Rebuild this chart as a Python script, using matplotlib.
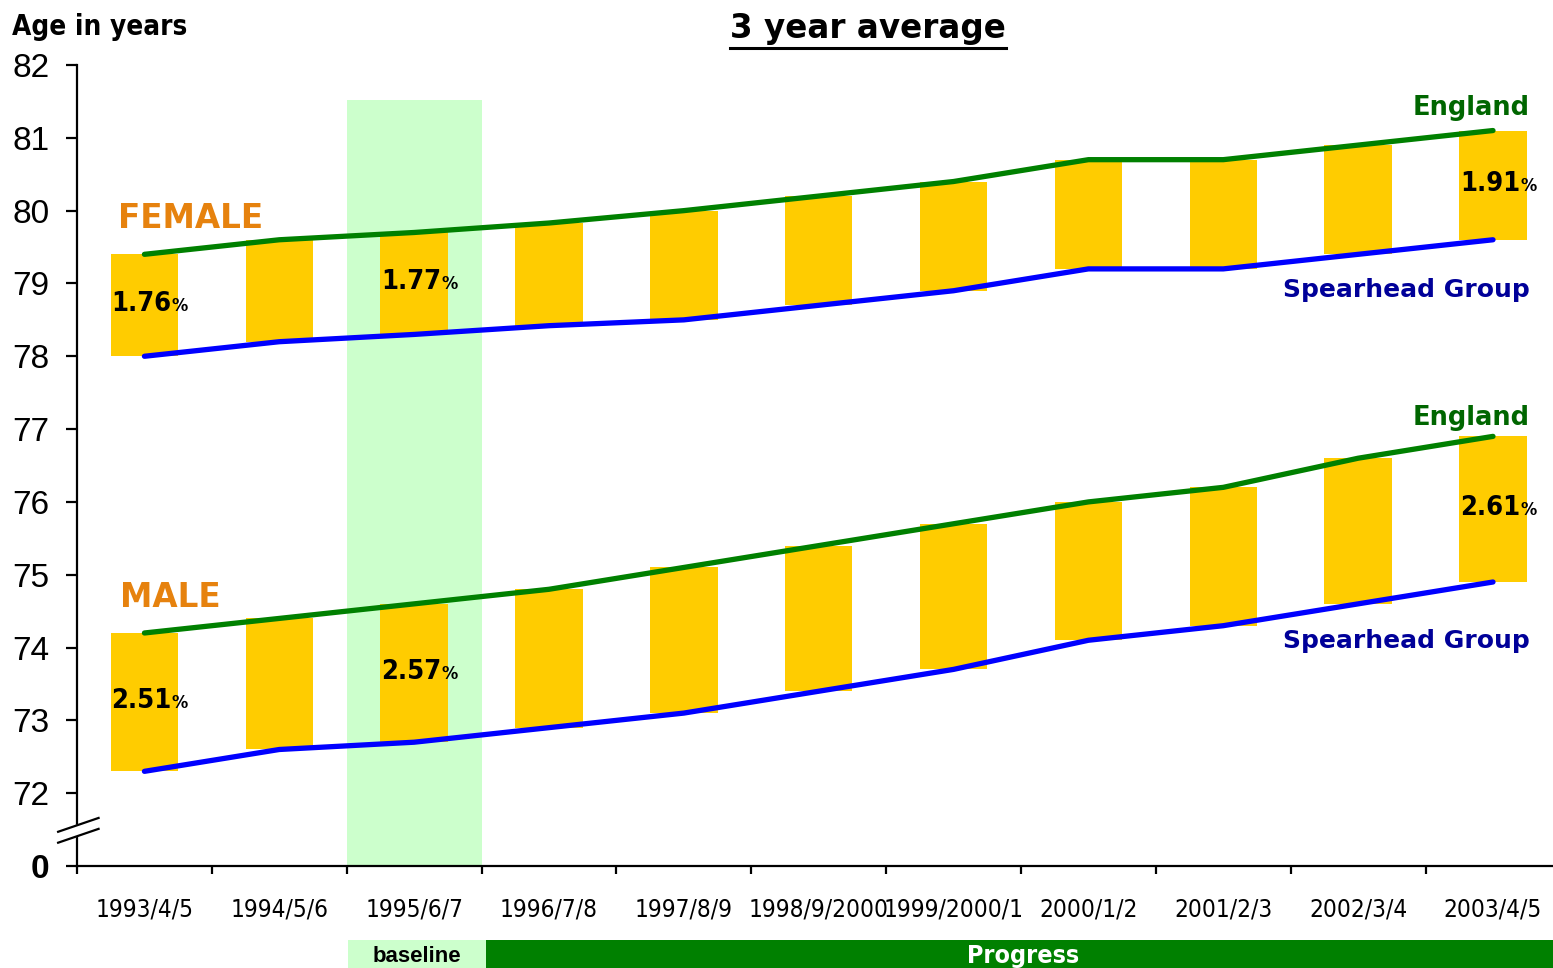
import matplotlib
matplotlib.use("Agg")
import matplotlib.pyplot as plt
from matplotlib import font_manager
from matplotlib.lines import Line2D
from matplotlib.patches import Rectangle, Polygon
from matplotlib.offsetbox import TextArea, HPacker, AnnotationBbox
from matplotlib.transforms import blended_transform_factory

periods = ["1993/4/5", "1994/5/6", "1995/6/7", "1996/7/8", "1997/8/9", "1998/9/2000",
           "1999/2000/1", "2000/1/2", "2001/2/3", "2002/3/4", "2003/4/5"]

female_england = [79.4, 79.6, 79.7, 79.83, 80.0, 80.2, 80.4, 80.7, 80.7, 80.9, 81.1]
female_spearhead = [78.0, 78.2, 78.3, 78.42, 78.5, 78.7, 78.9, 79.2, 79.2, 79.4, 79.6]
male_england = [74.2, 74.4, 74.6, 74.8, 75.1, 75.4, 75.7, 76.0, 76.2, 76.6, 76.9]
male_spearhead = [72.3, 72.6, 72.7, 72.9, 73.1, 73.4, 73.7, 74.1, 74.3, 74.6, 74.9]

# gap between England and Spearhead Group, as % of England
female_gap_idx = [0, 2, 10]
female_gap_pct = ["1.76", "1.77", "1.91"]
male_gap_idx = [0, 2, 10]
male_gap_pct = ["2.51", "2.57", "2.61"]

Y_BREAK = 71  # the "0" tick sits one unit below 72, past the axis break

# look for a narrow face; otherwise shrink plain Arial-like text to fit
narrow = None
for f in font_manager.fontManager.ttflist:
    if f.stretch in ("condensed", "semi-condensed", "extra-condensed") and f.weight in (400, "normal", "regular"):
        narrow = (f.name, f.stretch)
        break
if narrow:
    NARROW, STRETCH, NSCALE = narrow[0], narrow[1], 1.0
else:
    NARROW, STRETCH, NSCALE = "Liberation Sans", "normal", 0.9
ARIAL = "Liberation Sans"
BOLD = "DejaVu Sans"

GOLD = "#FFCC00"
LINE_GREEN = "#008000"
LINE_BLUE = "#0000FF"
TXT_GREEN = "#006600"
TXT_BLUE = "#000099"
ORANGE = "#E6820E"
PALE = "#CCFFCC"

fig = plt.figure(figsize=(15.53, 9.68), dpi=100)
W, H = 1553, 968
ax = fig.add_axes([77 / W, 102 / H, (W - 77) / W, 801 / H])
x = list(range(len(periods)))

# baseline period band
ax.axvspan(1.5, 2.5, ymin=0, ymax=(81.52 - Y_BREAK) / (82 - Y_BREAK), color=PALE, lw=0, zorder=0)

for top, bot in ((female_england, female_spearhead), (male_england, male_spearhead)):
    heights = [t - b for t, b in zip(top, bot)]
    ax.bar(x, heights, bottom=bot, width=0.5, color=GOLD, zorder=1)
    ax.plot(x, top, color=LINE_GREEN, lw=3.8, solid_capstyle="round", zorder=2)
    ax.plot(x, bot, color=LINE_BLUE, lw=3.8, solid_capstyle="round", zorder=2)


def pct_label(i, top, bot, num):
    nprops = dict(family=NARROW, stretch=STRETCH, weight="bold", color="black")
    box = HPacker(children=[
        TextArea(num, textprops=dict(nprops, size=19.5 * NSCALE)),
        TextArea("%", textprops=dict(nprops, size=13 * NSCALE)),
    ], align="baseline", pad=0, sep=0)
    ab = AnnotationBbox(box, (i + 0.04, (top[i] + bot[i]) / 2), frameon=False, zorder=3,
                        box_alignment=(0.5, 0.45))
    ax.add_artist(ab)


for i, p in zip(female_gap_idx, female_gap_pct):
    pct_label(i, female_england, female_spearhead, p)
for i, p in zip(male_gap_idx, male_gap_pct):
    pct_label(i, male_england, male_spearhead, p)

ax.text(-0.193, 79.76, "FEMALE", family=BOLD, weight="bold", size=23.5, color=ORANGE, va="baseline")
ax.text(-0.18, 74.56, "MALE", family=BOLD, weight="bold", size=23.5, color=ORANGE, va="baseline")
ax.text(10.274, 81.31, "England", family=BOLD, weight="bold", size=18.5, color=TXT_GREEN,
        ha="right", va="baseline")
ax.text(10.274, 77.06, "England", family=BOLD, weight="bold", size=18.5, color=TXT_GREEN,
        ha="right", va="baseline")
ax.text(10.274, 78.82, "Spearhead Group", family=BOLD, weight="bold", size=18, color=TXT_BLUE,
        ha="right", va="baseline")
ax.text(10.274, 73.99, "Spearhead Group", family=BOLD, weight="bold", size=18, color=TXT_BLUE,
        ha="right", va="baseline")

# axes
ax.set_xlim(-0.5, 10.445)
ax.set_ylim(Y_BREAK, 82)
for s in ("top", "right"):
    ax.spines[s].set_visible(False)
for s in ("left", "bottom"):
    ax.spines[s].set_linewidth(1.6)

yt = [Y_BREAK] + list(range(72, 83))
ax.set_yticks(yt)
ax.set_yticklabels(["0"] + [str(v) for v in range(72, 83)], family=ARIAL, size=24)
ax.get_yticklabels()[0].set_fontweight("bold")
ax.tick_params(axis="y", direction="out", length=8, width=1.6, pad=12)

ax.set_xticks(x)
ax.set_xticklabels(periods, family=NARROW, stretch=STRETCH, size=17.5 * NSCALE)
ax.set_xticks([i - 0.5 for i in x], minor=True)
ax.tick_params(axis="x", which="major", length=0, pad=23)
ax.tick_params(axis="x", which="minor", direction="out", length=6, width=1.6)

# axis break marks
ax.add_patch(Polygon([(-0.64, 71.47), (-0.34, 71.66), (-0.34, 71.51), (-0.64, 71.32)],
                     closed=True, color="white", clip_on=False, zorder=5))
for y0, y1 in ((71.47, 71.66), (71.32, 71.51)):
    ax.add_line(Line2D([-0.64, -0.34], [y0, y1], color="black", lw=1.6, clip_on=False, zorder=6))

# baseline / progress strip under the axis
strip = blended_transform_factory(ax.transData, fig.transFigure)
ax.add_patch(Rectangle((1.512, 0), 2.535 - 1.512, 28 / H, transform=strip, color=PALE,
                       clip_on=False, lw=0))
ax.add_patch(Rectangle((2.535, 0), 10.445 - 2.535, 28 / H, transform=strip, color=LINE_GREEN,
                       clip_on=False, lw=0))
ax.text(2.024, 12 / H, "baseline", transform=strip, family=ARIAL, weight="bold", size=16,
        ha="center", va="center")
ax.text(6.516, 12 / H, "Progress", transform=strip, family=NARROW, stretch=STRETCH,
        weight="bold", size=18 * NSCALE, color="white", ha="center", va="center")

fig.text(12 / W, 1 - 35 / H, "Age in years", family=NARROW, stretch=STRETCH, weight="bold",
         size=20 * NSCALE, va="baseline")
title = fig.text(868 / W, 1 - 38 / H, "3 year average", family=BOLD, weight="bold", size=23.5,
                 ha="center", va="baseline")

fig.canvas.draw()
bb = title.get_window_extent().transformed(fig.transFigure.inverted())
fig.add_artist(Line2D([bb.x0, bb.x1], [1 - 47.5 / H] * 2, color="black", lw=2.2,
                      transform=fig.transFigure))

fig.savefig("out.png", dpi=100)
